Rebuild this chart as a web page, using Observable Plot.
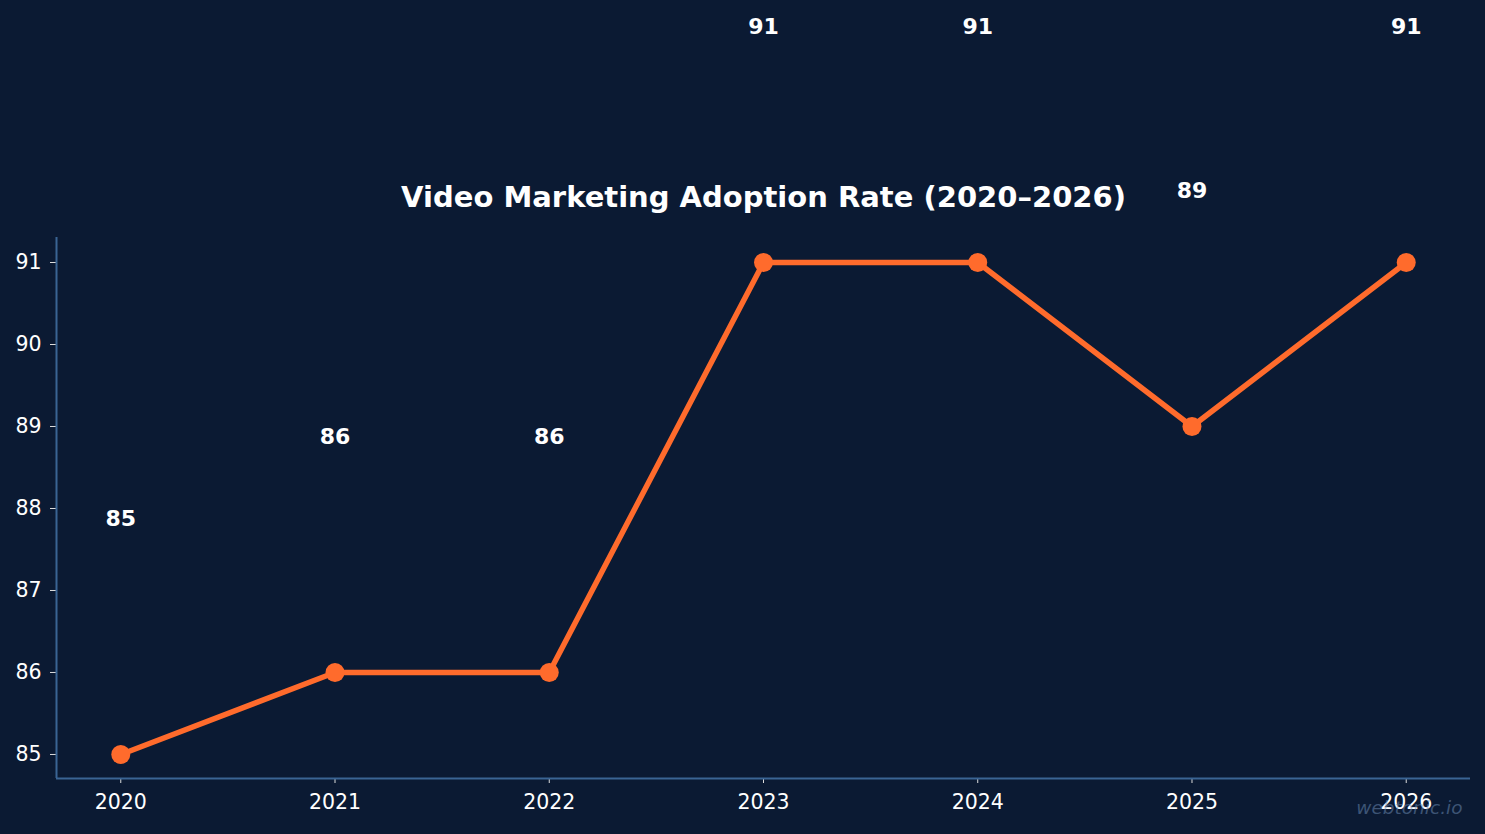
<!DOCTYPE html>
<html><head>
<meta charset="utf-8">
<script src="https://cdn.jsdelivr.net/npm/d3@7"></script>
<script src="https://cdn.jsdelivr.net/npm/@observablehq/plot@0.6"></script>
<style>html,body{margin:0;padding:0;background:#0b1a33;overflow:hidden;}</style>
</head><body><div id="chart"></div>
<script>
const years = [2020, 2021, 2022, 2023, 2024, 2025, 2026];
const rates = [85, 86, 86, 91, 91, 89, 91];
const yTicks = [85, 86, 87, 88, 89, 90, 91];
const titleText = "Video Marketing Adoption Rate (2020–2026)";
const watermark = "webtonic.io";

const data = years.map((y, i) => ({year: y, rate: rates[i]}));
const xDomain = [2019.7, 2026.3];
const yDomain = [84.707, 91.305];
const lineColor = "#ff6b2c";
const spineColor = "#3a6494";

const chart = Plot.plot({
  width: 1485, height: 834,
  marginLeft: 56, marginRight: 15, marginTop: 237, marginBottom: 56,
  style: {background: "#0b1a33", color: "#ffffff", fontFamily: "DejaVu Sans", fontSize: "20px", overflow: "visible"},
  x: {domain: xDomain, label: null},
  y: {domain: yDomain, label: null},
  marks: [
    Plot.axisX({ticks: years, tickFormat: "d", tickSize: 5, tickPadding: 11, stroke: "#dddddd", fill: "#ffffff", fontSize: 20.5, label: null}),
    Plot.axisY({ticks: yTicks, tickFormat: "d", tickSize: 6, tickPadding: 9, stroke: "#dddddd", fill: "#ffffff", fontSize: 20.5, label: null}),
    Plot.ruleX([xDomain[0]], {stroke: spineColor, strokeWidth: 2}),
    Plot.ruleY([yDomain[0]], {stroke: spineColor, strokeWidth: 2}),
    Plot.line(data, {x: "year", y: "rate", stroke: lineColor, strokeWidth: 5.5}),
    Plot.dot(data, {x: "year", y: "rate", r: 9.5, fill: lineColor, stroke: null}),
    Plot.text(data, {x: "year", y: "rate", text: d => String(d.rate), dy: -236, fontWeight: "bold", fontSize: 22, fill: "#ffffff"}),
    Plot.text([titleText], {frameAnchor: "top", lineAnchor: "middle", dy: -40, fontWeight: "bold", fontSize: 29, fill: "#ffffff"}),
    Plot.text([watermark], {frameAnchor: "bottom-right", lineAnchor: "middle", dx: -8, dy: 30, textAnchor: "end", fontStyle: "italic", fontSize: 18.5, fill: "#6f8fb8", fillOpacity: 0.5})
  ]
});
document.getElementById("chart").appendChild(chart);
</script>
</body></html>
